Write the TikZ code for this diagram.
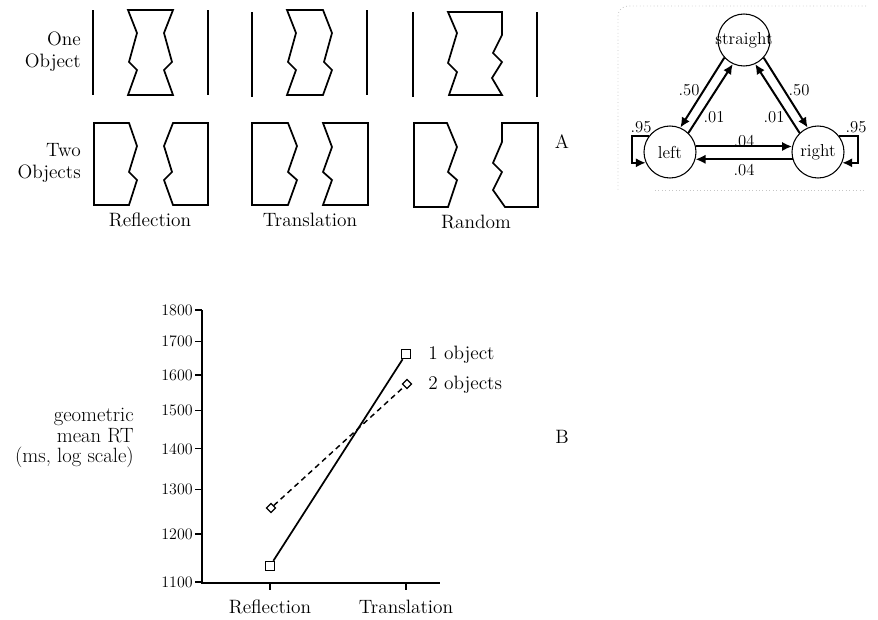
\documentclass[tikz,border=0pt]{standalone}
\usetikzlibrary{arrows.meta,shapes.geometric}
\begin{document}
\begin{tikzpicture}[x=0.75pt,y=-0.75pt,
  shp/.style={line width=1.3pt,line join=miter},
  vline/.style={line width=1.3pt},
  lbl/.style={font=\fontsize{14.5}{16.5}\selectfont,inner sep=0pt},
  tick/.style={font=\fontsize{12}{14}\selectfont,inner sep=0pt},
  st/.style={circle,draw,line width=0.8pt,minimum size=39pt,inner sep=0pt},
  sttxt/.style={font=\fontsize{13}{15}\selectfont,inner sep=0pt},
  plab/.style={font=\fontsize{12.5}{14}\selectfont,inner sep=0pt},
  arr/.style={line width=1.5pt,-{Latex[length=7.5pt,width=7pt]}},
  ax/.style={line width=1pt},
  sq/.style={rectangle,draw,line width=0.9pt,minimum size=7pt,inner sep=0pt,fill=white},
  dm/.style={diamond,draw,line width=0.9pt,minimum size=7pt,inner sep=0pt,fill=white},
  frm/.style={gray!45,dotted,line width=0.6pt}
]
\useasboundingbox (0,0) rectangle (878,619);

% ---------- top-left panel: row labels ----------
\node[lbl,align=right,anchor=east] (rowone) at (81,52) {One\\Object};
\node[lbl,align=right,anchor=east] (rowtwo) at (81,163) {Two\\Objects};

% one object row: vertical lines
\draw[vline] (93,10) -- (93,95);
\draw[vline] (208,10) -- (208,95);
\draw[vline] (252,12) -- (252,97);
\draw[vline] (367,10) -- (367,95);
\draw[vline] (413,12) -- (413,97);
\draw[vline] (537,12) -- (537,97);

% one object shapes
\draw[shp] (128,10) -- (173,10) -- (164,33) -- (172,62) -- (164,70) -- (173,95)
  -- (128,95) -- (137,70) -- (129,62) -- (137,33) -- cycle;
\draw[shp] (287,10) -- (323,10) -- (332,33) -- (324,62) -- (332,70) -- (323,95)
  -- (287,95) -- (296,70) -- (288,62) -- (296,33) -- cycle;
\draw[shp] (448,12) -- (502,12) -- (502,35) -- (493,53) -- (502,62) -- (492,78) -- (502,95)
  -- (449,95) -- (457,72) -- (448,63) -- (457,33) -- cycle;

% two object shapes
\draw[shp] (94,123) -- (129,123) -- (137,146) -- (129,172) -- (137,180) -- (129,205) -- (94,205) -- cycle;
\draw[shp] (208,123) -- (173,123) -- (164,146) -- (172,172) -- (164,180) -- (173,205) -- (208,205) -- cycle;
\draw[shp] (252,123) -- (288,123) -- (297,146) -- (288,172) -- (297,180) -- (288,205) -- (252,205) -- cycle;
\draw[shp] (368,123) -- (323,123) -- (332,147) -- (323,172) -- (332,180) -- (323,205) -- (368,205) -- cycle;
\draw[shp] (414,123) -- (447,123) -- (457,147) -- (448,172) -- (457,180) -- (448,207) -- (414,207) -- cycle;
\draw[shp] (538,123) -- (502,123) -- (502,142) -- (493,163) -- (502,172) -- (493,190) -- (505,207) -- (538,207) -- cycle;

% column labels
\node[lbl] (colref) at (150,220) {Reflection};
\node[lbl] (coltra) at (310,220) {Translation};
\node[lbl] (colran) at (476,222) {Random};

% ---------- panel A ----------
\node[lbl] (labA) at (562,142) {A};
\draw[frm] (866,6) -- (628,6) to[out=180,in=90] (618,16) -- (618,190);
\draw[frm] (655,190) -- (866,190);

\node[st] (S) at (744,40) {};
\node[st] (L) at (670,152) {};
\node[st] (R) at (818,152) {};
\node[sttxt] (Stxt) at (S) {straight};
\node[sttxt] (Ltxt) at (L) {left};
\node[sttxt] (Rtxt) at (R) {right};

\draw[arr] (S.222) -- (L.67);
\draw[arr] (L.46) -- (S.245);
\draw[arr] (S.318) -- (R.113);
\draw[arr] (R.134) -- (S.295);
\draw[arr] (L.12) -- (R.168);
\draw[arr] (R.196) -- (L.344);

\coordinate (lx) at (632,152);
\coordinate (rx) at (858,152);
\draw[arr] (L.143) -- (L.143 -| lx) |- (L.204);
\draw[arr] (R.37) -- (R.37 -| rx) |- (R.336);

\node[plab] (p1) at (689,90) {.50};
\node[plab] (p2) at (714,117) {.01};
\node[plab] (p3) at (774,117) {.01};
\node[plab] (p4) at (799,90) {.50};
\node[plab] (p5) at (744,141) {.04};
\node[plab] (p6) at (744,170) {.04};
\node[plab] (p7) at (641,127) {.95};
\node[plab] (p8) at (856,127) {.95};

% ---------- panel B ----------
\node[lbl] (labB) at (562,437) {B};

\draw[ax] (202,310) -- (202,583) -- (440,583);
\foreach \v in {1100,1200,1300,1400,1500,1600,1700,1800}{
  \pgfmathsetmacro\yy{582-1272*log10(\v/1100)}
  \draw[ax] (195,\yy) -- (202,\yy);
  \node[tick,anchor=east] (t\v) at (193,\yy) {\v};
}
\draw[ax] (270,583) -- (270,590);
\draw[ax] (406,583) -- (406,590);
\node[lbl] (xref) at (270,607) {Reflection};
\node[lbl] (xtra) at (406,607) {Translation};

\node[align=right,anchor=east,inner sep=0pt,font=\fontsize{15.5}{15.6}\selectfont] (ytitle) at (134,438) {geometric\\mean RT\\(ms, log scale)};

\node[sq] (a1) at (270,566) {};
\node[sq] (a2) at (406,354) {};
\node[dm] (b1) at (271,508) {};
\node[dm] (b2) at (407,384) {};
\draw[line width=1.3pt] (a1) -- (a2);
\draw[line width=1.1pt,dash pattern=on 4pt off 3pt] (b1) -- (b2);

\node[lbl,anchor=west] (leg1) at (428,355) {1 object};
\node[lbl,anchor=west] (leg2) at (428,385) {2 objects};
\end{tikzpicture}
\end{document}
